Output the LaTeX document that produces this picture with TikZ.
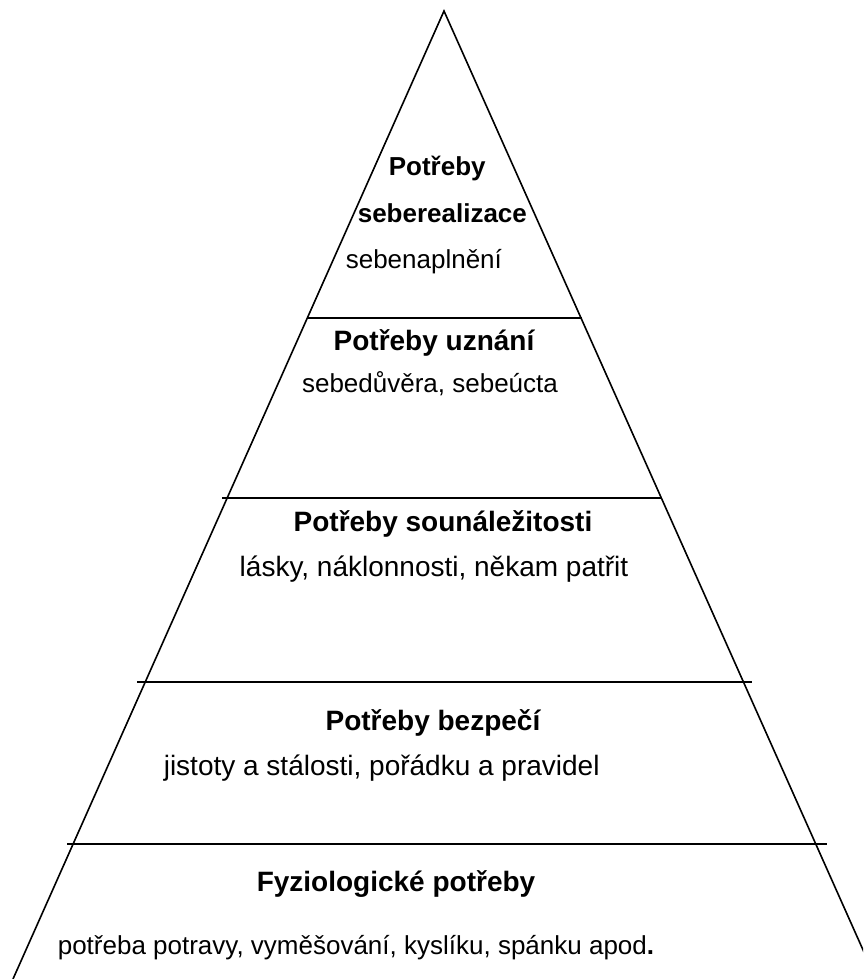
\documentclass[tikz,border=0pt]{standalone}
\usepackage{fontspec}
\setmainfont{Liberation Sans}
\begin{document}
\begin{tikzpicture}[x=1pt, y=-1pt, line width=1.6pt,
    head/.style = {font=\fontsize{26}{30}\selectfont\bfseries, inner sep=0pt},
    need/.style = {font=\fontsize{26}{30}\selectfont, inner sep=0pt},
    bighead/.style = {font=\fontsize{28}{32}\selectfont\bfseries, inner sep=0pt},
    bigneed/.style = {font=\fontsize{28}{32}\selectfont, inner sep=0pt}]
    \useasboundingbox (0,0) rectangle (863,979);
    \clip (0,0) rectangle (863,979);
    % pyramid
    \coordinate (top) at (444,11);
    \coordinate (bl) at (13,979);
    \coordinate (br) at (876,979);
    \draw (bl) -- (top) -- (br);
    % levels
    \draw (307,318) -- (582,318);
    \draw (222,498) -- (662,498);
    \draw (137,682) -- (752,682);
    \draw (67,844) -- (827,844);
    % texts
    \node[head, anchor=base west] (s1) at (388,175) {Potřeby};
    \node[head, anchor=base west] (s2) at (357,222) {seberealizace};
    \node[need, anchor=base west] (s3) at (345,268) {sebenaplnění};
    \node[bighead, anchor=base] (u1) at (434,350) {Potřeby uznání};
    \node[need, anchor=base] (u2) at (430,392) {sebedůvěra, sebeúcta};
    \node[bighead, anchor=base] (l1) at (443,531) {Potřeby sounáležitosti};
    \node[bigneed, anchor=base] (l2) at (434,576) {lásky, náklonnosti, někam patřit};
    \node[bighead, anchor=base] (b1) at (433,730) {Potřeby bezpečí};
    \node[bigneed, anchor=base west] (b2) at (163,775) {jistoty a stálosti, pořádku a pravidel};
    \node[bighead, anchor=base] (f1) at (396,891) {Fyziologické potřeby};
    \node[need, anchor=base west] (f2) at (57,954) {potřeba potravy, vyměšování, kyslíku, spánku apod\textbf{.}};
\end{tikzpicture}
\end{document}
